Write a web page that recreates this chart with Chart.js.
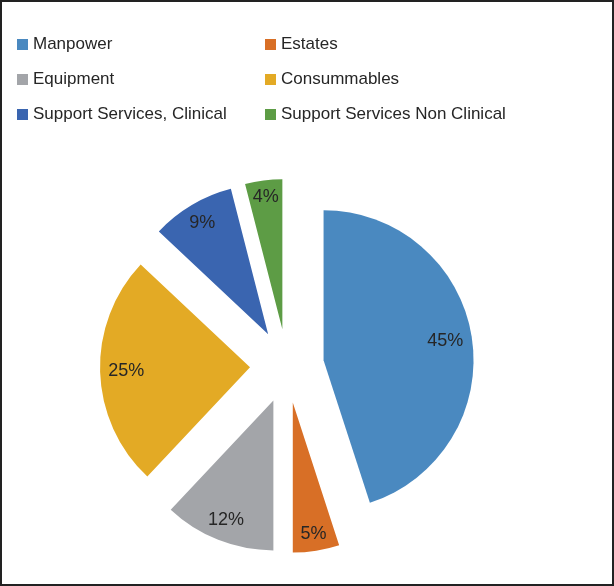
<!DOCTYPE html>
<html>
<head>
<meta charset="utf-8">
<script src="https://cdn.jsdelivr.net/npm/chart.js@4"></script>
<style>
  body { margin: 0; background: #fff; }
  #wrap { position: relative; width: 614px; height: 586px; box-sizing: border-box; border: 2px solid #222; overflow: hidden; }
  #pie { position: absolute; left: -2px; top: -2px; }
  .item { position: absolute; font: 17px "Liberation Sans", Arial, sans-serif; color: #262626; height: 20px; line-height: 20px; white-space: nowrap; }
  .box { display: inline-block; width: 11px; height: 11px; margin-right: 5px; vertical-align: -1px; }
</style>
</head>
<body>
<div id="wrap">
  <canvas id="pie" width="614" height="586"></canvas>
</div>
<script>
const labels = ['Manpower', 'Estates', 'Equipment', 'Consummables', 'Support Services, Clinical', 'Support Services Non Clinical'];
const shares = [45, 5, 12, 25, 9, 4];
const colors = ['#4a89c0', '#d86f26', '#a3a5a9', '#e3aa25', '#3a65b0', '#5d9c45'];

const RADIUS = 150;
const EXPLODE = 37; // px each slice is pulled out

// legend, two columns like the original
const wrap = document.getElementById('wrap');
labels.forEach((name, i) => {
    const el = document.createElement('div');
    el.className = 'item';
    el.style.left = (i % 2 === 0 ? 15 : 263) + 'px';
    el.style.top = (32 + Math.floor(i / 2) * 35) + 'px';
    el.innerHTML = '<span class="box" style="background:' + colors[i] + '"></span>' + name;
    wrap.appendChild(el);
});

// pull every slice out by the same distance along its middle angle
const explode = {
    id: 'explode',
    beforeDatasetsDraw(chart) {
        const a = chart.chartArea;
        const cx = (a.left + a.right) / 2, cy = (a.top + a.bottom) / 2;
        chart.getDatasetMeta(0).data.forEach(arc => {
            const mid = (arc.startAngle + arc.endAngle) / 2;
            arc.x = cx + Math.cos(mid) * EXPLODE;
            arc.y = cy + Math.sin(mid) * EXPLODE;
        });
    }
};

// percentage labels set inside the outer end of each slice
const sliceLabels = {
    id: 'sliceLabels',
    afterDatasetsDraw(chart) {
        const ctx = chart.ctx;
        const meta = chart.getDatasetMeta(0);
        ctx.save();
        ctx.font = '18px "Liberation Sans", Arial, sans-serif';
        ctx.fillStyle = '#262626';
        ctx.textAlign = 'center';
        ctx.textBaseline = 'middle';
        meta.data.forEach((arc, i) => {
            const text = shares[i] + '%';
            const mid = (arc.startAngle + arc.endAngle) / 2;
            const hw = ctx.measureText(text).width / 2, hh = 7;
            const ext = hw * Math.abs(Math.cos(mid)) + hh * Math.abs(Math.sin(mid));
            const d = arc.outerRadius - 8 - ext;
            ctx.fillText(text, arc.x + Math.cos(mid) * d, arc.y + Math.sin(mid) * d);
        });
        ctx.restore();
    }
};

const chart = new Chart(document.getElementById('pie').getContext('2d'), {
    type: 'pie',
    data: {
        labels: labels,
        datasets: [{
            data: shares,
            backgroundColor: colors,
            borderWidth: 0
        }]
    },
    options: {
        responsive: false,
        animation: false,
        radius: RADIUS,
        layout: { padding: { left: 0, right: 40, top: 160, bottom: 14 } },
        plugins: {
            legend: { display: false },
            tooltip: { enabled: false }
        }
    },
    plugins: [explode, sliceLabels]
});
</script>
</body>
</html>
